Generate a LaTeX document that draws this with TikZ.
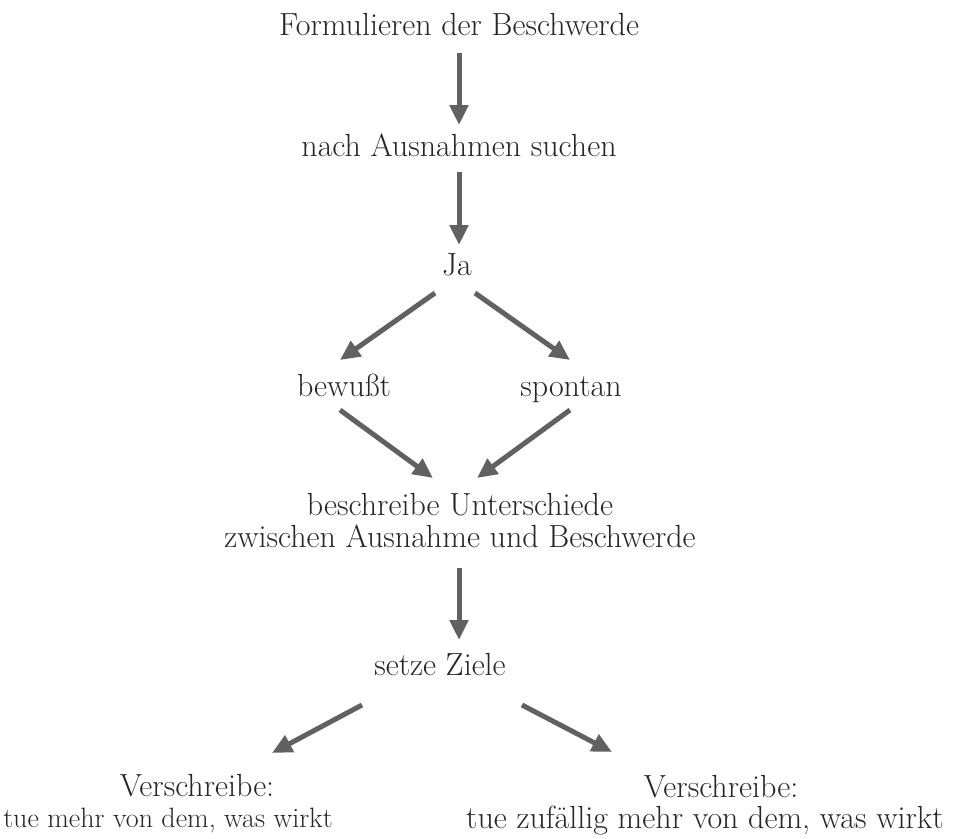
\documentclass[tikz,border=0pt]{standalone}
\usetikzlibrary{arrows.meta,calc}
\begin{document}
\begin{tikzpicture}[x=1pt,y=-1pt,
  lbl/.style={font=\fontsize{32}{38}\selectfont, text=black!85, inner sep=0pt, anchor=base},
  arr/.style={draw=black!62, line width=5pt, -{Triangle[length=20pt,width=18pt]}}]
\useasboundingbox (0,0) rectangle (963,838);
\node[lbl] (F) at (459,35) {Formulieren der Beschwerde};
\node[lbl] (N) at (459,156) {nach Ausnahmen suchen};
\node[lbl] (J) at (457,275) {Ja};
\node[lbl] (BW) at (344,396) {bewußt};
\node[lbl] (SP) at (571,396) {spontan};
\node[lbl] (B1) at (460,515) {beschreibe Unterschiede};
\node[lbl] (B2) at (460,547) {zwischen Ausnahme und Beschwerde};
\node[lbl] (S) at (440,675) {setze Ziele};
\node[lbl] (VL) at (197,796) {Verschreibe:};
\node[lbl, font=\fontsize{28}{34}\selectfont] (TL) at (168,827) {tue mehr von dem, was wirkt};
\node[lbl] (VR) at (721,797) {Verschreibe:};
\node[lbl] (TR) at (705,828) {tue zufällig mehr von dem, was wirkt};
\draw[arr] ($(F.base)+(0,18)$) -- ($(N.base)+(0,-31)$);
\draw[arr] ($(N.base)+(0,16)$) -- ($(J.base)+(2,-30)$);
\draw[arr] ($(J.base)+(-22,18)$) -- ($(BW.base)+(-4,-36)$);
\draw[arr] ($(J.base)+(18,18)$) -- ($(SP.base)+(-1,-36)$);
\draw[arr] ($(BW.base)+(-4,14)$) -- ($(B1.base)+(-27,-37)$);
\draw[arr] ($(SP.base)+(-1,14)$) -- ($(B1.base)+(17,-37)$);
\draw[arr] ($(B2.base)+(-1,21)$) -- ($(S.base)+(19,-35)$);
\draw[arr] ($(S.base)+(-78,30)$) -- ($(VL.base)+(75,-43)$);
\draw[arr] ($(S.base)+(82,30)$) -- ($(VR.base)+(-109,-45)$);
\end{tikzpicture}
\end{document}
